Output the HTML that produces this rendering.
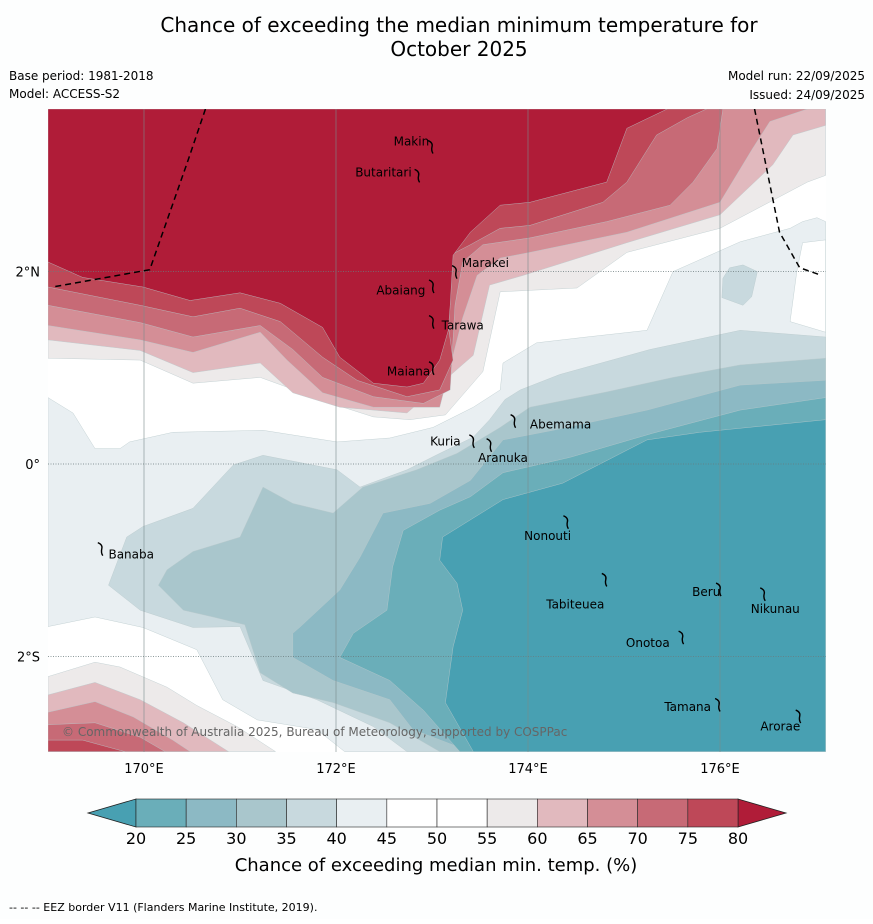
<!DOCTYPE html>
<html><head><meta charset="utf-8"><style>
body{margin:0;background:#fff;font-family:"Liberation Sans","DejaVu Sans",sans-serif}
svg text{font-family:"DejaVu Sans","Liberation Sans",sans-serif}
</style></head><body>
<svg id="chart" width="873" height="919" xmlns="http://www.w3.org/2000/svg">
<rect width="873" height="919" fill="#fdfefe"/>
<text x="459" y="32" font-size="20" text-anchor="middle">Chance of exceeding the median minimum temperature for</text>
<text x="459" y="56" font-size="20" text-anchor="middle">October 2025</text>
<text x="9" y="80" font-size="12">Base period: 1981-2018</text>
<text x="9" y="98" font-size="12">Model: ACCESS-S2</text>
<text x="865" y="80" font-size="12" text-anchor="end">Model run: 22/09/2025</text>
<text x="865" y="99" font-size="12" text-anchor="end">Issued: 24/09/2025</text>
<defs><clipPath id="mc"><rect x="48" y="109" width="778" height="643"/></clipPath></defs>
<g id="map" clip-path="url(#mc)">
<rect x="48" y="109" width="778" height="643" fill="#ffffff"/>
</g>
<g id="labels"></g>
<text x="62" y="736" font-size="12" fill="#666">© Commonwealth of Australia 2025, Bureau of Meteorology, supported by COSPPac</text>
<g id="colorbar"></g>
<text x="436" y="871" font-size="18" text-anchor="middle">Chance of exceeding median min. temp. (%)</text>
<text x="9" y="911" font-size="11">--  --  -- EEZ border V11 (Flanders Marine Institute, 2019).</text>
</svg>
<script>
var NS="http://www.w3.org/2000/svg";
var warmColors=["#edeaea","#e1b9be","#d48e96","#c76a76","#be4858","#b01c38"];
var warm55=[[169,3.69],[177.1,3.69],[177.1,3.0],[176.91,2.93],[176.0,2.45],[175.03,2.2],[174.51,1.83],[173.71,1.79],[173.53,0.96],[173.14,0.51],[172.77,0.46],[172.39,0.49],[172.01,0.61],[171.21,0.9],[170.51,0.84],[169.96,1.08],[169,1.1]];
var warm60=[[169,3.69],[177.1,3.69],[177.1,3.52],[176.76,3.42],[176.55,3.11],[176.0,2.59],[175.03,2.3],[173.95,1.96],[173.6,1.86],[173.43,1.13],[172.74,0.53],[172.04,0.59],[171.55,0.74],[171.21,1.05],[170.51,0.95],[169.96,1.18],[169,1.29]];
var warm65=[[169,3.69],[176.91,3.69],[176.52,3.56],[176.34,3.28],[176.0,2.72],[175.03,2.41],[174.02,2.2],[173.71,2.14],[173.47,1.96],[173.32,1.52],[173.08,0.59],[172.39,0.59],[171.86,0.74],[171.49,1.08],[171.21,1.37],[170.51,1.16],[169.96,1.29],[169,1.44]];
var warm70=[[169,3.69],[176.03,3.69],[175.97,3.28],[175.72,2.93],[175.48,2.69],[174.82,2.52],[174.02,2.35],[173.53,2.28],[173.32,2.1],[173.24,1.65],[173.19,0.77],[172.91,0.63],[172.39,0.7],[171.86,0.9],[171.55,1.19],[171.21,1.44],[170.51,1.32],[169.96,1.47],[169,1.65]];
var warm75=[[169,3.69],[175.86,3.69],[175.66,3.6],[175.34,3.42],[175.03,2.93],[174.78,2.72],[174.02,2.48],[173.71,2.45],[173.4,2.28],[173.19,2.17],[173.14,1.65],[173.22,1.08],[173.08,0.77],[172.74,0.7],[172.22,0.87],[171.86,1.11],[171.42,1.48],[171.0,1.62],[170.51,1.53],[169.96,1.65],[169,1.84]];
var warm80=[[169,3.69],[175.45,3.69],[175.03,3.49],[174.82,2.93],[174.02,2.72],[173.71,2.69],[173.4,2.41],[173.22,2.17],[173.19,1.65],[173.17,1.39],[173.08,1.08],[172.91,0.84],[172.74,0.8],[172.39,0.84],[172.04,1.11],[171.86,1.42],[171.42,1.67],[171.0,1.78],[170.48,1.7],[169.99,1.84],[169.36,1.94],[169,2.1]];
var sw55=[[169,-2.99],[169,-2.21],[169.49,-2.06],[169.75,-2.11],[170.24,-2.32],[170.55,-2.51],[170.97,-2.73],[171.34,-2.97],[171.37,-2.99]];
var sw60=[[169,-2.99],[169,-2.4],[169.49,-2.27],[169.96,-2.45],[170.41,-2.69],[170.88,-2.99]];
var sw65=[[169,-2.99],[169,-2.58],[169.49,-2.47],[169.89,-2.63],[170.3,-2.87],[170.48,-2.99]];
var sw70=[[169,-2.99],[169,-2.71],[169.49,-2.69],[169.96,-2.84],[170.22,-2.99]];
var sw75=[[169,-2.99],[169,-2.87],[169.36,-2.87],[169.8,-2.99]];
var coolColors=["#e9eff2","#c8d9de","#a9c6cc","#8cb9c4","#6aaeb9","#48a0b2"];
var cool45=[[169,0.69],[169.26,0.53],[169.49,0.16],[169.75,0.16],[169.85,0.23],[170.3,0.33],[171.24,0.35],[172.01,0.23],[172.56,0.27],[173.01,0.38],[173.43,0.59],[173.71,0.77],[173.74,1.05],[174.09,1.26],[174.61,1.32],[175.24,1.39],[175.51,2.0],[176.21,2.31],[176.73,2.45],[176.86,2.52],[177.01,2.56],[177.1,2.52],[177.1,-2.99],[172.09,-2.99],[171.8,-2.76],[171.18,-2.66],[170.82,-2.45],[170.55,-1.93],[169.99,-1.7],[169.49,-1.59],[169,-1.69]];
var pocket50=[[177.1,2.33],[176.86,2.3],[176.8,2.0],[176.73,1.48],[177.1,1.37]];
var patch40=[[176.03,1.93],[176.1,2.04],[176.24,2.07],[176.39,2.0],[176.33,1.74],[176.24,1.65],[176.02,1.73]];
var cool40=[[170.93,-0.01],[171.24,0.09],[172.01,-0.06],[172.25,-0.24],[172.74,-0.06],[173.08,0.11],[173.43,0.28],[173.6,0.46],[173.76,0.67],[173.92,0.77],[174.33,0.93],[175.27,1.19],[176.21,1.39],[177.1,1.32],[177.1,-2.99],[172.74,-2.99],[172.39,-2.73],[171.8,-2.45],[171.24,-2.25],[171.0,-1.69],[170.51,-1.7],[169.96,-1.52],[169.63,-1.26],[169.82,-0.76],[169.99,-0.65],[170.51,-0.46]];
var cool35=[[171.24,-0.24],[171.55,-0.41],[171.97,-0.51],[172.28,-0.24],[172.84,-0.06],[173.26,0.11],[173.71,0.38],[174.02,0.59],[174.82,0.75],[175.51,0.9],[176.21,1.03],[177.1,1.1],[177.1,-2.99],[173.08,-2.99],[172.56,-2.69],[171.97,-2.48],[171.55,-2.38],[171.21,-2.17],[171.05,-1.67],[170.72,-1.59],[170.41,-1.52],[170.15,-1.26],[170.24,-1.1],[170.51,-0.91],[171.0,-0.76]];
var cool30=[[171.63,-1.69],[172.04,-1.31],[172.25,-0.97],[172.49,-0.51],[172.98,-0.41],[173.4,-0.17],[173.74,0.25],[174.26,0.35],[175.24,0.56],[176.21,0.82],[177.1,0.87],[177.1,-2.99],[173.4,-2.99],[172.8,-2.76],[172.56,-2.45],[171.97,-2.25],[171.55,-2.01],[171.55,-1.76]];
var cool25=[[172.04,-2.01],[172.18,-1.76],[172.53,-1.52],[172.59,-1.07],[172.7,-0.69],[173.08,-0.48],[173.4,-0.34],[173.74,-0.09],[174.44,0.07],[175.3,0.32],[176.21,0.56],[177.1,0.69],[177.1,-2.99],[173.29,-2.99],[172.91,-2.56],[172.56,-2.25]];
var cool20=[[173.11,-0.76],[173.74,-0.37],[174.36,-0.2],[175.24,0.25],[175.79,0.33],[177.1,0.46],[177.1,-2.99],[173.43,-2.99],[173.14,-2.48],[173.22,-1.9],[173.32,-1.52],[173.26,-1.24],[173.08,-1.0]];
var islandNames=["Makin","Butaritari","Marakei","Abaiang","Tarawa","Maiana","Abemama","Kuria","Aranuka","Banaba","Nonouti","Beru","Tabiteuea","Nikunau","Onotoa","Tamana","Arorae"];
var islandLon=[172.99,172.85,173.24,173.0,173.0,173.0,173.85,173.42,173.6,169.55,174.4,175.99,174.8,176.45,175.6,175.98,176.82];
var islandLat=[3.3,3.0,2.0,1.85,1.48,1.0,0.45,0.24,0.2,-0.88,-0.6,-1.3,-1.2,-1.35,-1.8,-2.5,-2.62];
var labelLon=[172.6,172.2,173.31,172.42,173.1,172.53,174.02,172.98,173.48,169.63,173.96,175.71,174.19,176.32,175.02,175.42,176.42];
var labelLat=[3.31,2.99,2.05,1.76,1.4,0.92,0.37,0.19,0.02,-0.98,-0.79,-1.37,-1.5,-1.55,-1.9,-2.57,-2.77];
var lonTicks=[170,172,174,176];
var latTicks=[2,0,-2];
var latLabels=["2°N","0°","2°S"];
var cbLevels=[20,25,30,35,40,45,50,55,60,65,70,75,80];
var cbColors=["#6aaeb9","#8cb9c4","#a9c6cc","#c8d9de","#e9eff2","#ffffff","#ffffff","#edeaea","#e1b9be","#d48e96","#c76a76","#be4858"];
var eezWest=[[170.64,3.69],[170.46,3.16],[170.06,2.02],[169.05,1.84]];
var eezEast=[[176.36,3.69],[176.62,2.41],[176.83,2.04],[177.06,1.96]];

function X(lon){return 144+(lon-170)*96;}
function Y(lat){return 464-lat*96.2;}
var map=document.getElementById('map');
var labels=document.getElementById('labels');
var svg=document.getElementById('chart');
function poly(pts,fill,name){
  var p=document.createElementNS(NS,'polygon');
  p.setAttribute('points',pts.map(function(d){return X(d[0]).toFixed(1)+','+Y(d[1]).toFixed(1);}).join(' '));
  p.setAttribute('fill',fill);
  p.setAttribute('stroke','#b9c9cc');
  p.setAttribute('stroke-width','0.4');
  
  
  map.appendChild(p);
}
[cool45,cool40,cool35,cool30,cool25,cool20].forEach(function(c,i){poly(c,coolColors[i],'contour-cool-'+(45-5*i));});
poly(pocket50,'#ffffff','contour-white-pocket');
poly(patch40,'#c8d9de','contour-cool-patch');
[warm55,warm60,warm65,warm70,warm75,warm80].forEach(function(c,i){poly(c,warmColors[i],'contour-warm-'+(55+5*i));});
[sw55,sw60,sw65,sw70,sw75].forEach(function(c,i){poly(c,warmColors[i],'contour-warm-sw-'+(55+5*i));});

lonTicks.forEach(function(l){
  var ln=document.createElementNS(NS,'line');
  ln.setAttribute('x1',X(l));ln.setAttribute('x2',X(l));ln.setAttribute('y1',109);ln.setAttribute('y2',752);
  ln.setAttribute('stroke','#7a8a8c');ln.setAttribute('stroke-width','0.6');
  
  
  map.appendChild(ln);
  var t=document.createElementNS(NS,'text');
  t.setAttribute('x',X(l));t.setAttribute('y',773);t.setAttribute('font-size','13');t.setAttribute('text-anchor','middle');
  t.textContent=l+'°E';
  
  
  svg.appendChild(t);
});
latTicks.forEach(function(l,i){
  var ln=document.createElementNS(NS,'line');
  ln.setAttribute('x1',48);ln.setAttribute('x2',826);ln.setAttribute('y1',Y(l));ln.setAttribute('y2',Y(l));
  ln.setAttribute('stroke','#6a7a7c');ln.setAttribute('stroke-width','0.7');ln.setAttribute('stroke-dasharray','1,1.5');
  
  
  map.appendChild(ln);
  var t=document.createElementNS(NS,'text');
  t.setAttribute('x',40);t.setAttribute('y',Y(l)+5);t.setAttribute('font-size','13');t.setAttribute('text-anchor','end');
  t.textContent=latLabels[i];
  
  
  svg.appendChild(t);
});
[eezWest,eezEast].forEach(function(e){
  var pl=document.createElementNS(NS,'polyline');
  pl.setAttribute('points',e.map(function(d){return X(d[0])+','+Y(d[1]);}).join(' '));
  pl.setAttribute('fill','none');pl.setAttribute('stroke','#000');pl.setAttribute('stroke-width','1.5');pl.setAttribute('stroke-dasharray','6,4');
  
  
  map.appendChild(pl);
});
islandNames.forEach(function(n,i){
  var m=document.createElementNS(NS,'path');
  var x=X(islandLon[i]),y=Y(islandLat[i]);
  m.setAttribute('d','M'+(x-3)+','+(y-6)+' q5,2 4,6 q-1,4 1,7');
  m.setAttribute('fill','none');m.setAttribute('stroke','#000');m.setAttribute('stroke-width','1.4');
  
  
  labels.appendChild(m);
  var t=document.createElementNS(NS,'text');
  t.setAttribute('x',X(labelLon[i]));t.setAttribute('y',Y(labelLat[i]));t.setAttribute('font-size','12');
  t.textContent=n;
  
  
  labels.appendChild(t);
});
var cb=document.getElementById('colorbar');
function CX(v){return 136+(v-20)*(602/60);}
var tri1=document.createElementNS(NS,'polygon');
tri1.setAttribute('points',CX(20)+',799 '+CX(20)+',827 88,813');
tri1.setAttribute('fill','#48a0b2');tri1.setAttribute('stroke','#222');tri1.setAttribute('stroke-width','0.8');


cb.appendChild(tri1);
var tri2=document.createElementNS(NS,'polygon');
tri2.setAttribute('points',CX(80)+',799 '+CX(80)+',827 786,813');
tri2.setAttribute('fill','#b01c38');tri2.setAttribute('stroke','#222');tri2.setAttribute('stroke-width','0.8');


cb.appendChild(tri2);
cbColors.forEach(function(c,i){
  var r=document.createElementNS(NS,'rect');
  r.setAttribute('x',CX(cbLevels[i]));r.setAttribute('y',799);
  r.setAttribute('width',CX(cbLevels[i+1])-CX(cbLevels[i]));r.setAttribute('height',28);
  r.setAttribute('fill',c);r.setAttribute('stroke','#222');r.setAttribute('stroke-width','0.6');
  
  
  cb.appendChild(r);
});
cbLevels.forEach(function(v){
  var t=document.createElementNS(NS,'text');
  t.setAttribute('x',CX(v));t.setAttribute('y',844);t.setAttribute('font-size','16');t.setAttribute('text-anchor','middle');
  t.textContent=v;
  
  
  cb.appendChild(t);
});
</script>
</body></html>
